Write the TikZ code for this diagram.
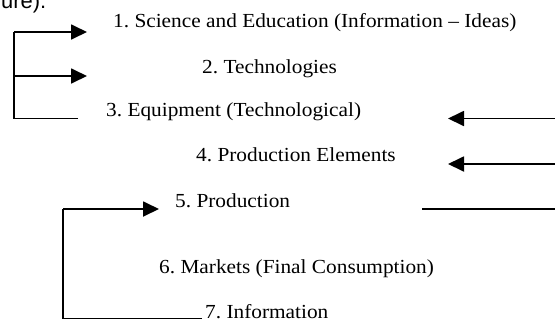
\documentclass[tikz,border=0pt]{standalone}
\usepackage{fontspec}
\setmainfont{Liberation Serif}[FakeStretch=1.07]
\newfontfamily\headfont{Liberation Sans}
\usetikzlibrary{arrows.meta}
\frenchspacing
\begin{document}
\begin{tikzpicture}[x=1bp,y=-1bp,
  level/.style={anchor=base west,inner sep=0pt,font=\fontsize{20}{24}\selectfont},
  link/.style={line width=1.8bp},
  feed/.style={link,-{Triangle[length=16bp,width=15bp]}}]
\useasboundingbox (0,0) rectangle (555,321);
\clip (0,0) rectangle (555,321);
% tail of the preceding caption line
\node[anchor=base west,inner sep=0pt,font=\headfont\fontsize{22}{26}\selectfont] (cap) at (1,8.5) {ure).};
% the seven levels
\node[level] (t1) at (113,27) {1. Science and Education (Information -- Ideas)};
\node[level] (t2) at (202,73) {2. Technologies};
\node[level] (t3) at (106,116) {3. Equipment (Technological)};
\node[level] (t4) at (196,161) {4. Production Elements};
\node[level] (t5) at (175,207) {5. Production};
\node[level] (t6) at (159,273) {6. Markets (Final Consumption)};
\node[level] (t7) at (205,318) {7. Information};
% left bracket feeding levels 1 and 2 from level 3
\coordinate (b1) at (14,32);
\coordinate (b2) at (14,76);
\coordinate (b3) at (14,118.5);
\coordinate (e1) at (87,32);
\coordinate (e2) at (87,76);
\coordinate (e3) at (78,118.5);
\draw[link] (e3) -- (b3) -- (b1);
\draw[feed] (b1) -- (e1);
\draw[feed] (b2) -- (e2);
% inputs arriving from the right
\coordinate (r3) at (556,118.5);
\coordinate (r4) at (556,164);
\coordinate (r5) at (556,209);
\coordinate (h3) at (448,118.5);
\coordinate (h4) at (448,164);
\coordinate (h5) at (422,209);
\draw[feed] (r3) -- (h3);
\draw[feed] (r4) -- (h4);
\draw[link] (h5) -- (r5);
% feedback from information to production
\coordinate (i7) at (202,318.5);
\coordinate (c7) at (63,318.5);
\coordinate (c5) at (63,209);
\coordinate (p5) at (159,209);
\draw[link] (i7) -- (c7) -- (c5);
\draw[feed] (c5) -- (p5);
\end{tikzpicture}
\end{document}
